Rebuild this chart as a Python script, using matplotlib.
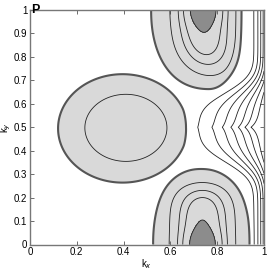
import numpy as np
import matplotlib
matplotlib.use("Agg")
import matplotlib.pyplot as plt

plt.rcParams['font.family'] = ['Liberation Sans', 'DejaVu Sans']

# ---- field description ----
base_level = 0.75
# central oval: centre x, centre y, half-width, half-height, plateau height
oval = [0.395, 0.495, 0.268, 0.225, 0.6]
# its core: centre x, centre y, half-width, half-height, amplitude
oval_core = [0.41, 0.4975, 0.27, 0.22, 0.3]
# edge lobes: centre x, left half-width, right half-width, height, exponent
lobe_bottom = [0.735, 0.21, 0.205, 0.325, 2.2]
lobe_top = [0.76, 0.245, 0.135, 0.335, 2.2]
lobe_plateau = 0.4
# lobe cores: centre x, amplitude, x-width, y-width, y-power, shear
core_bottom = [0.737, 2.11, 0.074, 0.235, 5.0, 0.0]
core_top = [0.74, 2.11, 0.074, 0.238, 3.6, 0.4]
# darkest spot inside each lobe: amplitude, x-width, y-width
spot = [1.0, 0.05, 0.046]
# fall-off towards kx=1: onset at ky=0 / ky=0.5, length at ky=0 / ky=0.5 / kink
drop_onset = [0.93, 0.62]
drop_len = [0.05, 0.20, 0.02]
drop_band = 0.17

thick_level = 1.0
inner_levels = [1.5, 2.0, 2.5]
dark_level = 3.3
outer_levels = [0.5, 0.0, -0.5, -1.0, -1.5, -2.0, -2.5]

xticks = [0, 0.2, 0.4, 0.6, 0.8, 1]
xticklabels = ['0', '0.2', '0.4', '0.6', '0.8', '1']
yticks = [0, 0.1, 0.2, 0.3, 0.4, 0.5, 0.6, 0.7, 0.8, 0.9, 1]
yticklabels = ['0', '0.1', '0.2', '0.3', '0.4', '0.5', '0.6', '0.7', '0.8', '0.9', '1']

# ---- build field ----
k = np.linspace(0, 1, 501)
X, Y = np.meshgrid(k, k)


def plateau(rho, h, delta=0.04):
    return h / (1 + np.exp((rho - 1) / delta))


rho_c = np.hypot((X - oval[0]) / oval[2], (Y - oval[1]) / oval[3])
F = base_level + plateau(rho_c, oval[4])
r_core = np.hypot((X - oval_core[0]) / oval_core[2], (Y - oval_core[1]) / oval_core[3])
F += oval_core[4] * np.exp(-r_core**2 / 0.61)

for lobe, core, dy in ((lobe_bottom, core_bottom, Y), (lobe_top, core_top, 1 - Y)):
    hw = np.where(X < lobe[0], lobe[1], lobe[2])
    p = lobe[4]
    rho = (np.abs((X - lobe[0]) / hw)**p + np.abs(dy / lobe[3])**p)**(1 / p)
    F += plateau(rho, lobe_plateau)
    cx = core[0] + core[5] * dy**2
    F += core[1] * np.exp(-((X - cx) / core[2])**2 / 2) * np.exp(-(dy / core[3])**core[4])
    F += spot[0] * np.exp(-((X - cx) / spot[1])**2 / 2 - (dy / spot[2])**2 / 2)

T = np.exp(-(np.abs(Y - 0.5) / drop_band)**3)
xs = drop_onset[0] + (drop_onset[1] - drop_onset[0]) * T
ell = (drop_len[0] + (drop_len[1] - drop_len[0]) * T
       - drop_len[2] * np.exp(-np.abs(Y - 0.5) / 0.03))
F -= (np.clip(X - xs, 0, None) / ell)**2

fig = plt.figure(figsize=(2.70, 2.73), dpi=100)
ax = fig.add_axes([30/270, 1 - 244.5/273, 234/270, 234.5/273])
ax.contourf(X, Y, F, levels=[thick_level, dark_level, F.max() + 1],
            colors=['#d9d9d9', '#8c8c8c'])
ax.contour(X, Y, F, levels=sorted(outer_levels + inner_levels + [dark_level]),
           colors='#222222', linewidths=0.6, linestyles='solid')
ax.contour(X, Y, F, levels=[thick_level], colors='#555555', linewidths=1.5,
           linestyles='solid')

ax.set_xlim(0, 1)
ax.set_ylim(0, 1)
ax.set_xticks(xticks)
ax.set_xticklabels(xticklabels)
ax.set_yticks(yticks)
ax.set_yticklabels(yticklabels)
ax.tick_params(direction='in', length=3, width=0.6, labelsize=7, pad=2,
               top=True, right=True, color='#555555')
for s in ax.spines.values():
    s.set_color('#777777')
    s.set_linewidth(1.0)
ax.set_xlabel('k$_x$', fontsize=7, labelpad=0)
ax.set_ylabel('k$_y$', fontsize=7)
ax.yaxis.set_label_coords(-0.072, 0.5)
ax.text(0.005, 1.0, 'P', transform=ax.transAxes, fontsize=9, fontweight='bold',
        ha='left', va='center')
fig.savefig('out.png', dpi=100)
